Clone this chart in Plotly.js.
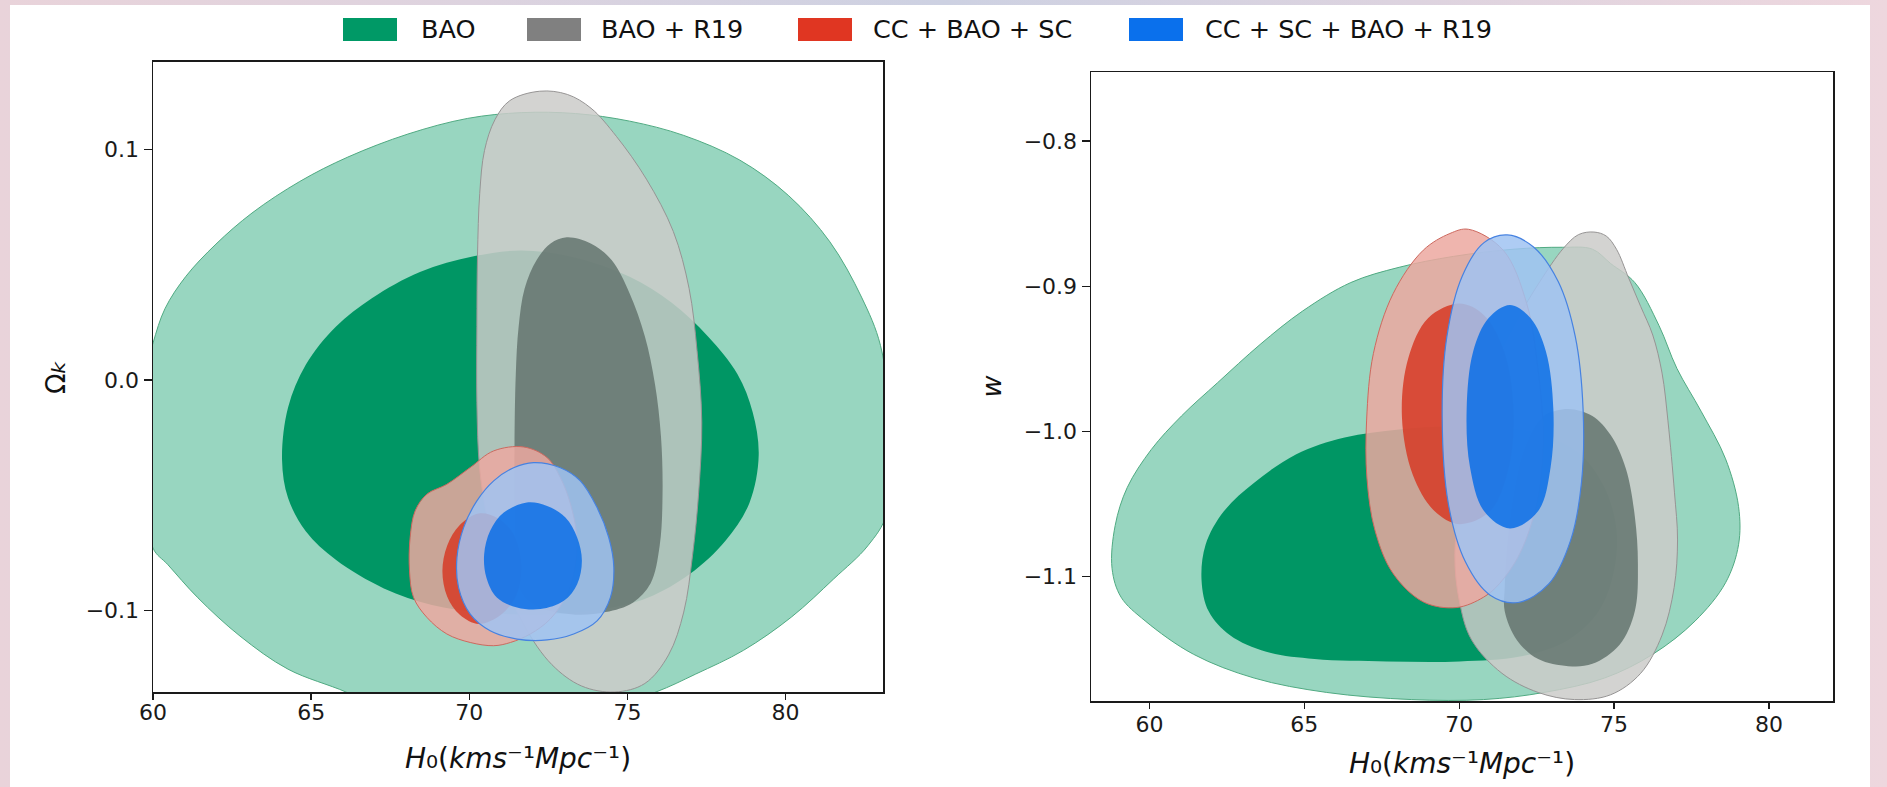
<!DOCTYPE html>
<html>
<head>
<meta charset="utf-8">
<script src="https://cdn.plot.ly/plotly-3.0.1.min.js"></script>
<style>
  html, body { margin:0; padding:0; }
  body { width:1887px; height:787px; position:relative; overflow:hidden;
    background: linear-gradient(90deg, #e9d3da 0%, #ddd3df 25%, #cdd1e2 50%, #ddd3df 75%, #eed7de 100%); }
  #sheet { position:absolute; left:10px; top:5px; width:1860px; height:782px; background:#ffffff; }
  #plot { position:absolute; left:0; top:0; width:1887px; height:787px; }
</style>
</head>
<body>
<div id="sheet"></div>
<div id="plot"></div>
<script>
// ---------- categories / labels ----------
var seriesNames = ["BAO", "BAO + R19", "CC + BAO + SC", "CC + SC + BAO + R19"];
var xTickVals = [60, 65, 70, 75, 80];
var xTickText = ["60", "65", "70", "75", "80"];
var leftYTickVals = [-0.1, 0.0, 0.1];
var leftYTickText = ["\u22120.1", "0.0", "0.1"];
var rightYTickVals = [-1.1, -1.0, -0.9, -0.8];
var rightYTickText = ["\u22121.1", "\u22121.0", "\u22120.9", "\u22120.8"];

// ---------- LEFT PANEL: H0 vs Omega_k contour outlines ----------
var baoOuterL_x = [59.7,60.0,60.38,61.04,61.99,63.13,64.64,66.16,68.06,69.95,71.66,73.36,75.07,76.78,78.55,80.1,81.4,82.4,83.0,83.3,83.2,82.6,81.52,80.19,78.67,77.16,75.9,74.1,70.5,67.2,66.1,64.27,62.75,61.42,60.47,60.0,59.7];
var baoOuterL_y = [0.0,0.016,0.031,0.045,0.059,0.0725,0.0862,0.0968,0.1068,0.1136,0.1161,0.1157,0.1124,0.1062,0.0955,0.080,0.060,0.036,0.015,-0.018,-0.058,-0.072,-0.0864,-0.1029,-0.1174,-0.1277,-0.1355,-0.143,-0.148,-0.143,-0.1355,-0.1256,-0.1112,-0.0946,-0.0802,-0.073,-0.04];
var baoInnerL_x = [71.66,73.36,75.07,76.40,77.54,78.48,78.96,79.15,78.86,78.10,76.97,75.64,74.12,72.23,70.33,68.82,67.30,65.78,64.83,64.27,64.08,64.27,64.83,65.78,66.92,68.44,70.14];
var baoInnerL_y = [0.0562,0.0531,0.0448,0.0335,0.019,0.0025,-0.014,-0.0326,-0.0533,-0.0698,-0.0843,-0.0946,-0.0998,-0.1019,-0.1008,-0.0977,-0.0905,-0.0781,-0.0657,-0.0512,-0.0347,-0.012,0.0066,0.0231,0.0355,0.0469,0.0537];
var r19OuterL_x = [72.23,73.1,73.85,74.65,75.6,76.45,76.95,77.2,77.35,77.25,77.06,76.78,76.30,75.55,74.60,73.55,72.61,71.75,71.09,70.62,70.33,70.24,70.24,70.26,70.33,70.48,70.81,71.28];
var r19OuterL_y = [0.1254,0.124,0.118,0.1058,0.0872,0.0645,0.0397,0.0128,-0.0182,-0.0492,-0.076,-0.1008,-0.1194,-0.1318,-0.1355,-0.1329,-0.1236,-0.107,-0.0864,-0.0636,-0.0388,-0.0099,0.0231,0.0541,0.081,0.0996,0.113,0.1213];
var r19InnerL_x = [73.08,73.84,74.50,75.07,75.55,75.87,76.06,76.11,76.02,75.73,75.17,74.31,73.36,72.23,71.66,71.47,71.43,71.43,71.47,71.56,71.75,72.13,72.57];
var r19InnerL_y = [0.062,0.0593,0.0521,0.0376,0.019,-0.0017,-0.0244,-0.0492,-0.0719,-0.0884,-0.0967,-0.1008,-0.1019,-0.0988,-0.0926,-0.0802,-0.0595,-0.0285,0.0025,0.0231,0.0397,0.0521,0.0593];
var scOuterL_x = [71.72,72.46,72.88,73.20,73.39,73.35,73.09,72.56,71.93,71.30,70.77,70.03,69.29,68.66,68.24,68.11,68.13,68.29,68.66,69.29,70.03,70.77];
var scOuterL_y = [-0.0291,-0.0337,-0.0424,-0.0539,-0.067,-0.080,-0.0930,-0.1038,-0.1103,-0.114,-0.1154,-0.114,-0.1103,-0.1031,-0.0945,-0.0829,-0.0684,-0.0568,-0.0496,-0.0453,-0.0380,-0.0308];
var scInnerL_x = [70.3,70.9,71.4,71.65,71.5,71.0,70.3,69.7,69.3,69.15,69.3,69.7];
var scInnerL_y = [-0.058,-0.060,-0.067,-0.080,-0.093,-0.102,-0.106,-0.102,-0.094,-0.083,-0.072,-0.063];
var allOuterL_x = [72.03,72.88,73.51,74.04,74.41,74.57,74.46,74.04,73.30,72.46,71.51,70.66,70.03,69.66,69.61,69.82,70.24,70.77,71.40];
var allOuterL_y = [-0.0359,-0.0381,-0.0438,-0.0554,-0.0684,-0.0814,-0.0945,-0.1046,-0.1103,-0.1129,-0.1125,-0.1089,-0.1017,-0.0901,-0.0771,-0.0641,-0.0525,-0.0438,-0.0381];
var allInnerL_x = [71.82,72.46,73.04,73.41,73.56,73.41,72.99,72.25,71.51,70.87,70.54,70.47,70.66,71.09];
var allInnerL_y = [-0.0532,-0.0547,-0.0597,-0.0684,-0.0785,-0.0887,-0.0959,-0.0995,-0.0988,-0.0945,-0.0858,-0.0757,-0.0655,-0.0576];

// ---------- RIGHT PANEL: H0 vs w contour outlines ----------
var baoOuterR_x = [58.79,58.89,59.28,60.06,61.03,62.20,63.57,64.94,66.50,68.06,69.81,71.77,73.33,74.30,74.89,75.67,76.45,77.03,77.81,78.60,79.02,79.02,78.60,77.62,76.25,74.69,72.74,70.79,68.45,65.72,63.38,61.42,59.86,59.08];
var baoOuterR_y = [-1.0946,-1.065,-1.0388,-1.0125,-0.9895,-0.9665,-0.9402,-0.9172,-0.8975,-0.887,-0.8795,-0.8745,-0.8732,-0.8745,-0.8844,-0.8975,-0.9271,-0.9567,-0.9862,-1.019,-1.0519,-1.0782,-1.1044,-1.1307,-1.1537,-1.1701,-1.18,-1.1849,-1.1849,-1.18,-1.1701,-1.1537,-1.1307,-1.1143];
var baoInnerR_x = [61.68,61.81,62.40,63.38,64.74,66.30,68.06,69.81,71.38,72.74,73.91,74.69,75.08,74.98,74.50,73.52,71.96,70.01,67.67,65.33,63.77,62.60,61.91];
var baoInnerR_y = [-1.1028,-1.0782,-1.0552,-1.0355,-1.0158,-1.0043,-0.9987,-0.9967,-0.9977,-1.0026,-1.0158,-1.0388,-1.0683,-1.0979,-1.1241,-1.1438,-1.1553,-1.1586,-1.1586,-1.157,-1.152,-1.1406,-1.1241];
var r19OuterR_x = [74.35,74.75,75.08,75.47,75.86,76.25,76.55,76.74,76.95,77.05,76.94,76.55,75.86,74.89,73.72,72.55,71.38,70.40,70.01,69.86,70.13,70.78,71.20,71.86,72.60,73.36,73.85];
var r19OuterR_y = [-0.8627,-0.8655,-0.8746,-0.8943,-0.914,-0.9337,-0.9599,-0.9928,-1.042,-1.0749,-1.1077,-1.1405,-1.1668,-1.1816,-1.1849,-1.18,-1.1668,-1.1438,-1.1176,-1.0841,-1.0382,-0.9831,-0.952,-0.9234,-0.897,-0.874,-0.8645];
var r19InnerR_x = [73.52,74.30,74.89,75.38,75.67,75.77,75.67,75.18,74.30,73.52,72.55,71.86,71.47,71.47,71.57,71.77,72.16,72.74];
var r19InnerR_y = [-0.9846,-0.9895,-1.0026,-1.0256,-1.0585,-1.0913,-1.1241,-1.1471,-1.1603,-1.1619,-1.157,-1.1438,-1.1241,-1.1077,-1.0749,-1.042,-1.0092,-0.9895];
var scOuterR_x = [70.30,71.42,72.18,72.55,72.71,72.50,71.96,71.30,70.79,69.91,68.84,67.86,67.28,67.02,67.01,67.23,67.87,68.84,69.70];
var scOuterR_y = [-0.8608,-0.8752,-0.912,-0.9579,-1.0038,-1.0497,-1.0841,-1.105,-1.1143,-1.1215,-1.1176,-1.0979,-1.0683,-1.0322,-0.9923,-0.9463,-0.905,-0.8752,-0.8637];
var scInnerR_x = [70.0,70.8,71.45,71.75,71.6,71.0,70.0,69.2,68.5,68.15,68.35,69.0];
var scInnerR_y = [-0.912,-0.920,-0.945,-0.985,-1.025,-1.055,-1.064,-1.055,-1.030,-0.99,-0.950,-0.922];
var allOuterR_x = [71.55,72.4,73.2,73.75,74.0,73.95,73.6,72.9,71.9,71.0,70.2,69.65,69.45,69.6,70.1,70.8];
var allOuterR_y = [-0.8647,-0.873,-0.897,-0.935,-0.985,-1.035,-1.075,-1.105,-1.118,-1.113,-1.090,-1.050,-0.99,-0.935,-0.893,-0.870];
var allInnerR_x = [71.64,72.3,72.8,73.04,72.95,72.55,71.64,70.8,70.35,70.24,70.45,70.95];
var allInnerR_y = [-0.913,-0.922,-0.945,-0.985,-1.025,-1.055,-1.067,-1.055,-1.025,-0.985,-0.945,-0.922];

// ---------- styles ----------
var legendColors = ["#009966", "#808080", "#e03622", "#0a70ec"];
var styles = {
  baoOuter: {fill: "rgb(152,214,192)", line: "rgb(80,170,130)", w: 1},
  baoInner: {fill: "rgb(0,150,100)", line: "rgb(0,150,100)", w: 0},
  r19Outer: {fill: "rgba(203,203,201,0.85)", line: "rgb(150,148,148)", w: 1},
  r19Inner: {fill: "rgba(100,116,110,0.85)", line: "rgba(100,116,110,0.85)", w: 0},
  scOuter:  {fill: "rgba(236,168,160,0.85)", line: "rgb(205,105,95)", w: 1},
  scInner:  {fill: "rgba(214,58,36,0.85)", line: "rgba(214,58,36,0.85)", w: 0},
  allOuter: {fill: "rgba(160,195,242,0.85)", line: "rgb(70,130,225)", w: 1.2},
  allInner: {fill: "rgba(10,110,230,0.85)", line: "rgba(10,110,230,0.85)", w: 0}
};

function closed(a) { return a.concat([a[0]]); }
function contour(xs, ys, st, name, xa, ya) {
  return {
    type: "scatter", mode: "lines", name: name,
    x: closed(xs), y: closed(ys), xaxis: xa, yaxis: ya,
    fill: "toself", fillcolor: st.fill,
    line: {color: st.line, width: st.w, shape: "spline", smoothing: 1},
    hoverinfo: "skip", showlegend: false
  };
}

var traces = [
  contour(baoOuterL_x, baoOuterL_y, styles.baoOuter, seriesNames[0], "x", "y"),
  contour(baoInnerL_x, baoInnerL_y, styles.baoInner, seriesNames[0], "x", "y"),
  contour(r19OuterL_x, r19OuterL_y, styles.r19Outer, seriesNames[1], "x", "y"),
  contour(r19InnerL_x, r19InnerL_y, styles.r19Inner, seriesNames[1], "x", "y"),
  contour(scOuterL_x, scOuterL_y, styles.scOuter, seriesNames[2], "x", "y"),
  contour(scInnerL_x, scInnerL_y, styles.scInner, seriesNames[2], "x", "y"),
  contour(allOuterL_x, allOuterL_y, styles.allOuter, seriesNames[3], "x", "y"),
  contour(allInnerL_x, allInnerL_y, styles.allInner, seriesNames[3], "x", "y"),

  contour(baoOuterR_x, baoOuterR_y, styles.baoOuter, seriesNames[0], "x2", "y2"),
  contour(baoInnerR_x, baoInnerR_y, styles.baoInner, seriesNames[0], "x2", "y2"),
  contour(r19OuterR_x, r19OuterR_y, styles.r19Outer, seriesNames[1], "x2", "y2"),
  contour(r19InnerR_x, r19InnerR_y, styles.r19Inner, seriesNames[1], "x2", "y2"),
  contour(scOuterR_x, scOuterR_y, styles.scOuter, seriesNames[2], "x2", "y2"),
  contour(scInnerR_x, scInnerR_y, styles.scInner, seriesNames[2], "x2", "y2"),
  contour(allOuterR_x, allOuterR_y, styles.allOuter, seriesNames[3], "x2", "y2"),
  contour(allInnerR_x, allInnerR_y, styles.allInner, seriesNames[3], "x2", "y2")
];

var W = 1887, H = 787;
function px(v) { return v / W; }
function py(v) { return 1 - v / H; }

var FONT = "DejaVu Sans, Verdana, sans-serif";
var axisCommon = {
  showgrid: false, zeroline: false, showline: true, mirror: true,
  linecolor: "#1a1a1a", linewidth: 1.5,
  ticks: "outside", ticklen: 8, tickwidth: 1.3, tickcolor: "#1a1a1a",
  tickfont: {family: FONT, size: 22, color: "#1a1a1a"},
  fixedrange: true
};
function ax(extra) { return Object.assign({}, axisCommon, extra); }

var xTitle = "<i>H</i><span style='font-size:30px'>\u2080</span>(<i>kms</i><span style='font-size:30px'>\u207B\u00B9</span><i>Mpc</i><span style='font-size:30px'>\u207B\u00B9</span>)";
var yTitleLeft = "\u03A9<span style='font-size:33px'><i>\u2096</i></span>";

// manual legend (patches + labels)
var legendPatchX = [[343, 397], [527, 581], [798, 852], [1129, 1183]];
var legendTextX = [419, 599, 871, 1203];
var shapes = [], annotations = [];
for (var i = 0; i < seriesNames.length; i++) {
  shapes.push({type: "rect", xref: "paper", yref: "paper",
    x0: px(legendPatchX[i][0]), x1: px(legendPatchX[i][1]), y0: py(41), y1: py(18),
    fillcolor: legendColors[i], line: {width: 0}});
  annotations.push({xref: "paper", yref: "paper", x: px(legendTextX[i]), y: py(29),
    xanchor: "left", yanchor: "middle", showarrow: false, text: seriesNames[i],
    font: {family: FONT, size: 25.5, color: "#111"}});
}

var layout = {
  width: W, height: H,
  margin: {l: 0, r: 0, t: 0, b: 0},
  paper_bgcolor: "rgba(0,0,0,0)", plot_bgcolor: "#ffffff",
  showlegend: false, hovermode: false,
  font: {family: FONT, color: "#111"},
  xaxis: ax({domain: [px(153), px(883)], range: [60, 83.08], anchor: "y",
    tickmode: "array", tickvals: xTickVals, ticktext: xTickText, ticklen: 6, ticklabelstandoff: -6,
    title: {text: xTitle, font: {family: FONT, size: 28, color: "#111"}, standoff: 24}}),
  yaxis: ax({domain: [py(692), py(61.5)], range: [-0.1355, 0.1383], anchor: "x",
    tickmode: "array", tickvals: leftYTickVals, ticktext: leftYTickText,
    title: {text: yTitleLeft, font: {family: FONT, size: 27, color: "#111"}, standoff: 12}}),
  xaxis2: ax({domain: [px(1091), px(1833)], range: [58.11, 82.07], anchor: "y2",
    tickmode: "array", tickvals: xTickVals, ticktext: xTickText, ticklen: 6, ticklabelstandoff: -3,
    title: {text: xTitle, font: {family: FONT, size: 28, color: "#111"}, standoff: 17}}),
  yaxis2: ax({domain: [py(701), py(72)], range: [-1.1859, -0.7524], anchor: "x2",
    tickmode: "array", tickvals: rightYTickVals, ticktext: rightYTickText,
    title: {text: "<i>w</i>", font: {family: FONT, size: 27, color: "#111"}, standoff: 14}}),
  shapes: shapes,
  annotations: annotations
};

Plotly.newPlot("plot", traces, layout, {staticPlot: true, displayModeBar: false});
</script>
</body>
</html>
